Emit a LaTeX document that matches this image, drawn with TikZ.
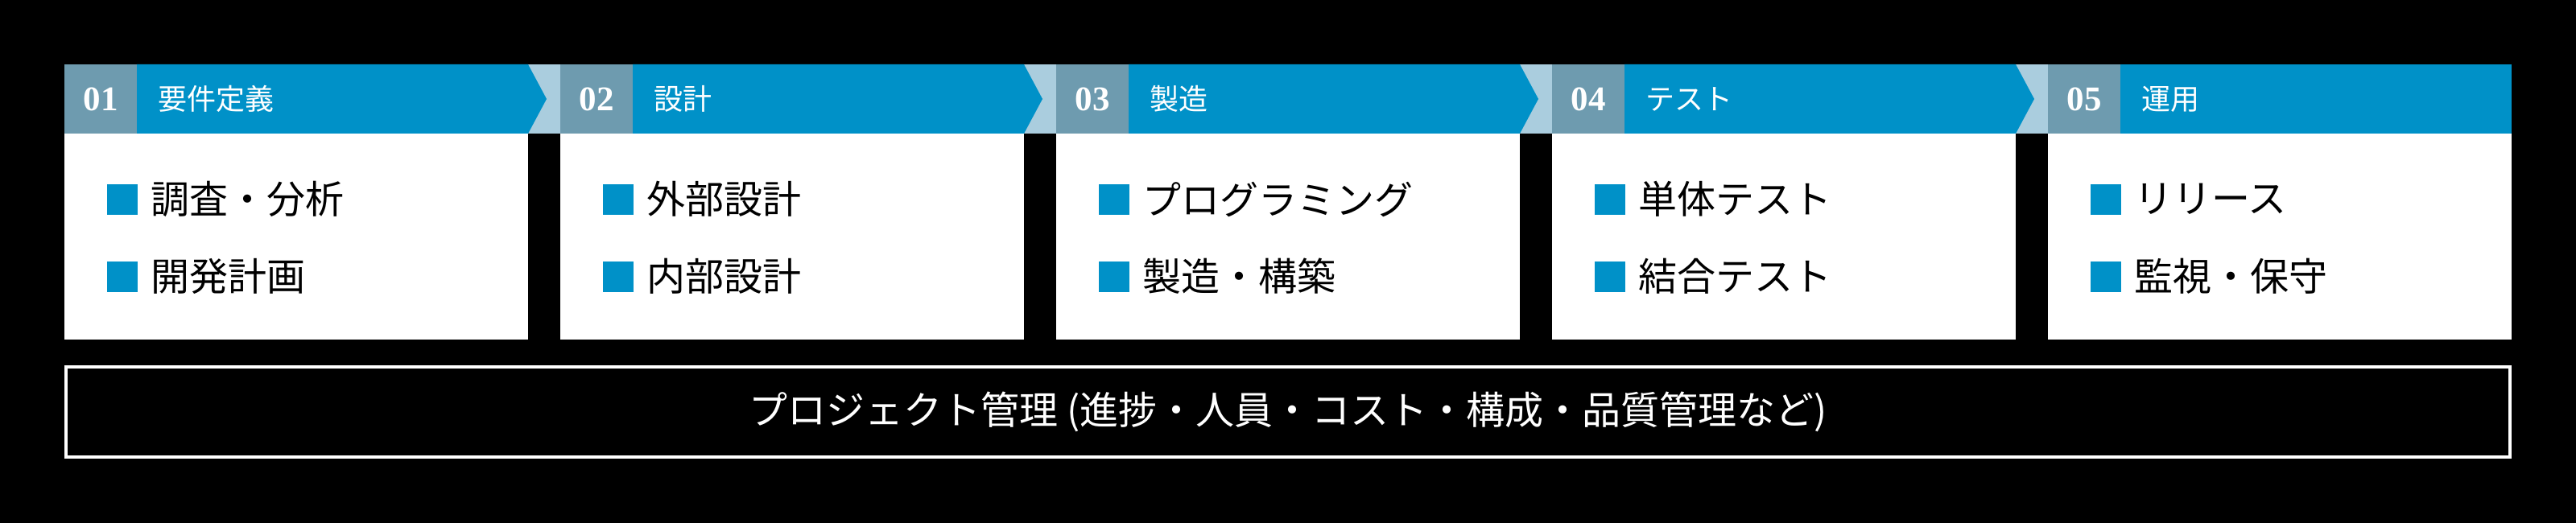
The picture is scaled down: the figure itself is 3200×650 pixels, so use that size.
\documentclass[tikz,border=0pt]{standalone}
\usepackage{fontspec}
\setmainfont{Noto Sans CJK JP}
\newfontfamily\numfont{Liberation Serif Bold}
\definecolor{hblue}{RGB}{0,145,200}
\definecolor{hgrey}{RGB}{110,155,175}
\definecolor{hlight}{RGB}{170,205,222}
\tikzset{
  bodybox/.style={fill=white, inner sep=0, outer sep=0, minimum width=576pt, minimum height=256pt, anchor=north west},
  numbox/.style={fill=hgrey, inner sep=0, outer sep=0, minimum width=90pt, minimum height=86pt, anchor=north west, text=white, font=\numfont\fontsize{43}{43}\selectfont},
  titlelabel/.style={anchor=west, inner sep=0, text=white, font=\fontsize{36}{36}\selectfont},
  itemlabel/.style={anchor=west, inner sep=0, text=black, font=\fontsize{48}{48}\selectfont},
  bulletsq/.style={fill=hblue, inner sep=0, outer sep=0, minimum size=38pt, anchor=west},
  gapband/.style={fill=hlight},
  headband/.style={fill=hblue},
  pmbox/.style={draw=white, line width=4pt, fill=black, inner sep=0, minimum width=3036pt, minimum height=112pt, text=white, font=\fontsize{48}{48}\selectfont},
}
\begin{document}
\begin{tikzpicture}[x=1pt,y=-1pt]
  \fill[black] (0,0) rectangle (3200,650);
  \useasboundingbox (0,0) rectangle (3200,650);
  \foreach \i/\num/\title/\itema/\itemb [evaluate=\i as \x using 80+\i*616] in {
      0/01/要件定義/調査・分析/開発計画,
      1/02/設計/外部設計/内部設計,
      2/03/製造/プログラミング/製造・構築,
      3/04/テスト/単体テスト/結合テスト,
      4/05/運用/リリース/監視・保守}{
    \ifnum\i<4
      \fill[gapband] (\x+576,80) rectangle (\x+616,166);
      \fill[headband] (\x+90,80) -- (\x+576,80) -- (\x+599,123) -- (\x+576,166) -- (\x+90,166) -- cycle;
    \else
      \fill[headband] (\x+90,80) rectangle (\x+576,166);
    \fi
    \node[numbox] (num\i) at (\x,80) {\num};
    \node[titlelabel] (title\i) at (\x+116,123) {\title};
    \node[bodybox] (body\i) at (\x,166) {};
    \node[bulletsq] (bula\i) at (\x+53,247.5) {};
    \node[itemlabel] (itema\i) at (\x+107,247.5) {\itema};
    \node[bulletsq] (bulb\i) at (\x+53,343.5) {};
    \node[itemlabel] (itemb\i) at (\x+107,343.5) {\itemb};
  }
  \node[pmbox] (pm) at (1600,512) {プロジェクト管理 (進捗・人員・コスト・構成・品質管理など)};
\end{tikzpicture}
\end{document}
